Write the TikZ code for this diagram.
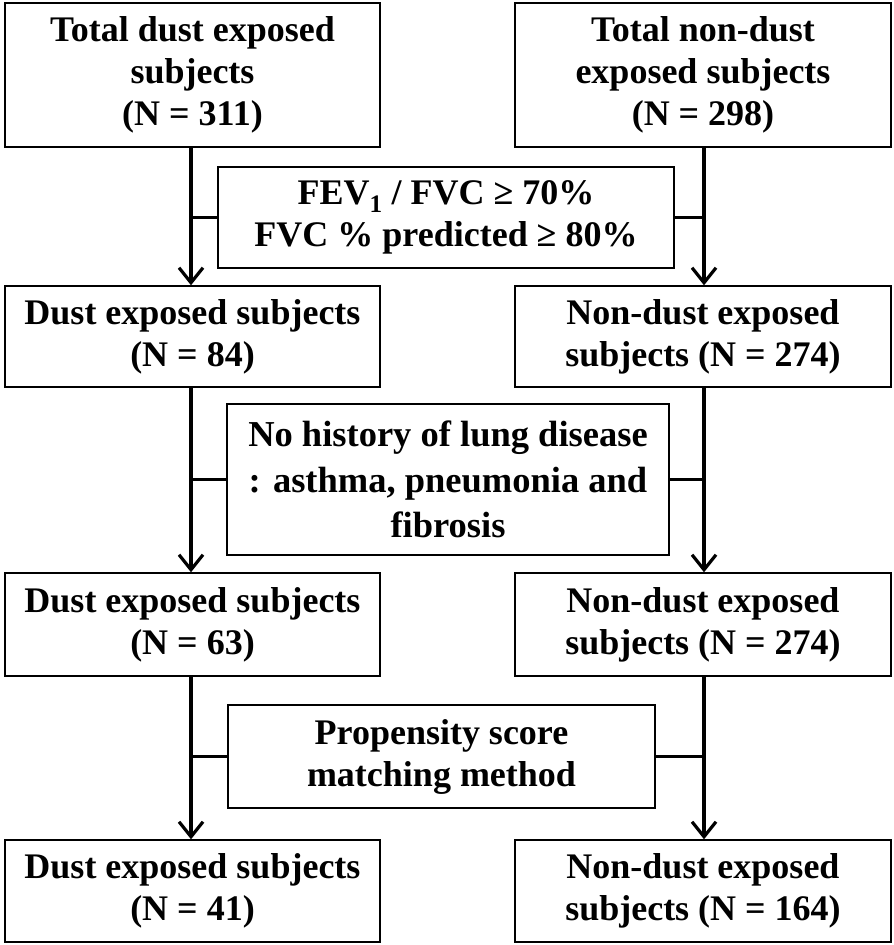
\documentclass[tikz,border=0pt]{standalone}
\usepackage{fontspec}
\setmainfont{Liberation Serif}
\usetikzlibrary{arrows.meta}
\tikzset{
  box/.style={draw=black, line width=1.4pt, align=center, inner sep=0pt,
    font=\fontsize{36}{42}\selectfont\bfseries},
  widebox/.style={box, font=\fontsize{36.5}{45.5}\selectfont\bfseries},
  flow/.style={line width=3.2pt, -{Straight Barb[length=15pt,width=24pt,line width=3.2pt]}},
  link/.style={line width=3.6pt}
}
\begin{document}
\begin{tikzpicture}[x=1pt,y=-1pt]
\useasboundingbox (0,0) rectangle (894,945);
% row 1
\node[box, minimum width=375pt, minimum height=144pt] (b1) at (192.5,75) {Total dust exposed\\subjects\\(N = 311)};
\node[box, minimum width=376pt, minimum height=144pt] (b2) at (703,75) {Total non-dust\\exposed subjects\\(N = 298)};
\node[box, minimum width=456pt, minimum height=101pt] (c1) at (446,217.5) {FEV\textsubscript{1} / FVC ≥ 70\%\\FVC \% predicted ≥ 80\%};
% row 2
\node[box, minimum width=375pt, minimum height=101pt] (r2l) at (192.5,336.5) {Dust exposed subjects\\(N = 84)};
\node[box, minimum width=376pt, minimum height=101pt] (r2r) at (703,336.5) {Non-dust exposed\\subjects (N = 274)};
\node[widebox, minimum width=442pt, minimum height=151pt] (c2) at (448,479.5) {No history of lung disease\\: asthma, pneumonia and\\fibrosis};
% row 3
\node[box, minimum width=375pt, minimum height=103pt] (r3l) at (192.5,624.5) {Dust exposed subjects\\(N = 63)};
\node[box, minimum width=376pt, minimum height=103pt] (r3r) at (703,624.5) {Non-dust exposed\\subjects (N = 274)};
\node[box, minimum width=427pt, minimum height=103pt] (c3) at (441.5,756.5) {Propensity score\\matching method};
% row 4
\node[box, minimum width=375pt, minimum height=102pt] (r4l) at (192.5,891) {Dust exposed subjects\\(N = 41)};
\node[box, minimum width=376pt, minimum height=102pt] (r4r) at (703,891) {Non-dust exposed\\subjects (N = 164)};
% arrows
\coordinate (xl) at (191,0);
\coordinate (xr) at (704,0);
\foreach \a/\b in {b1/r2l, r2l/r3l, r3l/r4l}{
  \draw[flow] (\a.south -| xl) -- (\b.north -| xl);
}
\foreach \a/\b in {b2/r2r, r2r/r3r, r3r/r4r}{
  \draw[flow] (\a.south -| xr) -- (\b.north -| xr);
}
% side links
\foreach \c in {c1,c2,c3}{
  \draw[link] (\c.west) -- (\c.west -| xl);
  \draw[link] (\c.east) -- (\c.east -| xr);
}
\end{tikzpicture}
\end{document}
